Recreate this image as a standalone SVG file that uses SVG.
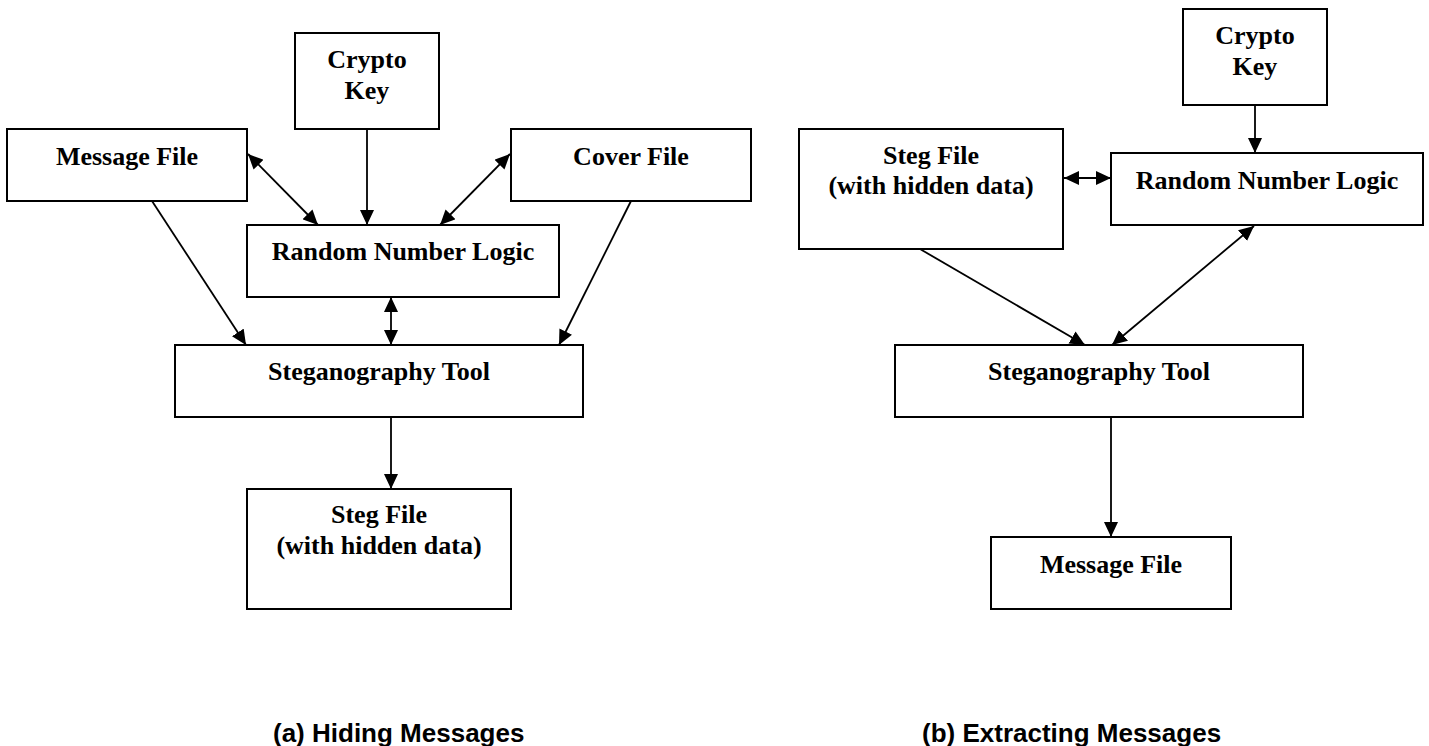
<svg xmlns="http://www.w3.org/2000/svg" width="1429" height="746" viewBox="0 0 1429 746">
  <style>
    .box { fill: #ffffff; stroke: #000000; stroke-width: 2; }
    .lbl { font-family: "Liberation Serif", "Times New Roman", serif; font-weight: bold; font-size: 26px; fill: #000000; text-anchor: middle; }
    .cap { font-family: "Liberation Sans", Arial, sans-serif; font-weight: bold; font-size: 26px; fill: #000000; }
    .wire { stroke: #000000; stroke-width: 1.8; fill: none; }
    .one { marker-end: url(#head); }
    .two { marker-start: url(#head); marker-end: url(#head); }
  </style>
  <defs>
    <marker id="head" markerUnits="userSpaceOnUse" markerWidth="15" markerHeight="14" refX="15" refY="7" orient="auto-start-reverse" viewBox="0 0 15 14">
      <path d="M0,0 L15,7 L0,14 Z" fill="#000000"/>
    </marker>
  </defs>
  <rect width="1429" height="746" fill="#ffffff"/>

  <!-- (a) hiding side -->
  <g id="a-crypto-key">
    <rect class="box" x="295" y="33" width="144" height="96"/>
    <text class="lbl" x="367" y="68">Crypto</text>
    <text class="lbl" x="367" y="99">Key</text>
  </g>
  <g id="a-message-file">
    <rect class="box" x="7" y="129" width="240" height="72"/>
    <text class="lbl" x="127" y="165">Message File</text>
  </g>
  <g id="a-cover-file">
    <rect class="box" x="511" y="129" width="240" height="72"/>
    <text class="lbl" x="631" y="165">Cover File</text>
  </g>
  <g id="a-random-number-logic">
    <rect class="box" x="247" y="225" width="312" height="72"/>
    <text class="lbl" x="403" y="260">Random Number Logic</text>
  </g>
  <g id="a-steganography-tool">
    <rect class="box" x="175" y="345" width="408" height="72"/>
    <text class="lbl" x="379" y="380">Steganography Tool</text>
  </g>
  <g id="a-steg-file">
    <rect class="box" x="247" y="489" width="264" height="120"/>
    <text class="lbl" x="379" y="523">Steg File</text>
    <text class="lbl" x="379" y="554">(with hidden data)</text>
  </g>

  <!-- (b) extracting side -->
  <g id="b-crypto-key">
    <rect class="box" x="1183" y="9" width="144" height="96"/>
    <text class="lbl" x="1255" y="44">Crypto</text>
    <text class="lbl" x="1255" y="75">Key</text>
  </g>
  <g id="b-steg-file">
    <rect class="box" x="799" y="129" width="264" height="120"/>
    <text class="lbl" x="931" y="164">Steg File</text>
    <text class="lbl" x="931" y="194">(with hidden data)</text>
  </g>
  <g id="b-random-number-logic">
    <rect class="box" x="1111" y="153" width="312" height="72"/>
    <text class="lbl" x="1267" y="189">Random Number Logic</text>
  </g>
  <g id="b-steganography-tool">
    <rect class="box" x="895" y="345" width="408" height="72"/>
    <text class="lbl" x="1099" y="380">Steganography Tool</text>
  </g>
  <g id="b-message-file">
    <rect class="box" x="991" y="537" width="240" height="72"/>
    <text class="lbl" x="1111" y="573">Message File</text>
  </g>

  <!-- connectors -->
  <g id="connectors">
    <line class="wire one" x1="367" y1="130" x2="367" y2="225"/>
    <line class="wire two" x1="248" y1="154" x2="318" y2="225"/>
    <line class="wire two" x1="510" y1="154" x2="440" y2="225"/>
    <line class="wire two" x1="391" y1="297" x2="391" y2="345"/>
    <line class="wire one" x1="152" y1="201" x2="246" y2="345"/>
    <line class="wire one" x1="631" y1="201" x2="559" y2="345"/>
    <line class="wire one" x1="391" y1="418" x2="391" y2="489"/>

    <line class="wire one" x1="1255" y1="106" x2="1255" y2="153"/>
    <line class="wire two" x1="1064" y1="178" x2="1111" y2="178"/>
    <line class="wire one" x1="920" y1="249" x2="1085" y2="345"/>
    <line class="wire two" x1="1254" y1="226" x2="1112" y2="345"/>
    <line class="wire one" x1="1111" y1="418" x2="1111" y2="537"/>
  </g>

  <!-- captions -->
  <text class="cap" x="273" y="742">(a) Hiding Messages</text>
  <text class="cap" x="922" y="742">(b) Extracting Messages</text>
</svg>
